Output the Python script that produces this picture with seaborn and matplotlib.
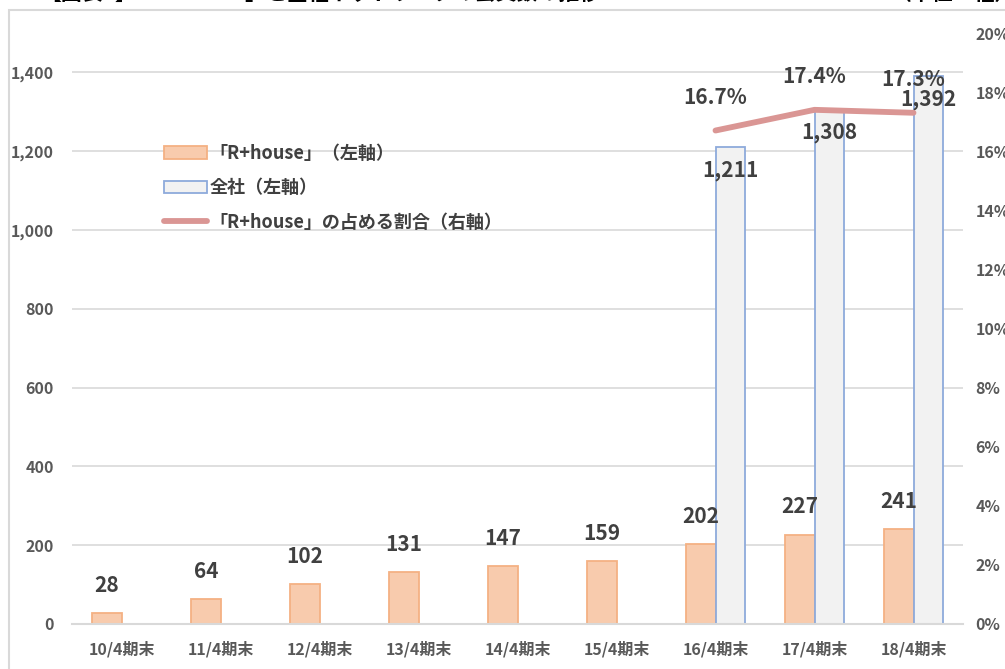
import matplotlib
matplotlib.use("Agg")
import matplotlib.pyplot as plt
import matplotlib.patches as mpatches
import matplotlib.lines as mlines
from matplotlib.ticker import FuncFormatter, MultipleLocator
import numpy as np
import pandas as pd
import seaborn as sns

# データ
periods = ["10/4期末", "11/4期末", "12/4期末", "13/4期末", "14/4期末",
           "15/4期末", "16/4期末", "17/4期末", "18/4期末"]
rhouse = [28, 64, 102, 131, 147, 159, 202, 227, 241]
zensha = [np.nan, np.nan, np.nan, np.nan, np.nan, np.nan, 1211, 1308, 1392]
share = [np.nan, np.nan, np.nan, np.nan, np.nan, np.nan, 0.167, 0.174, 0.173]

series_names = ["「R+house」（左軸）", "全社（左軸）"]
line_name = "「R+house」の占める割合（右軸）"

face_cols = ["#F8CBAD", "#F2F2F2"]
edge_cols = ["#F4B183", "#8EAADB"]
line_col = "#DA9694"
txt_col = "#404040"
tick_col = "#595959"
grid_col = "#D9D9D9"

sns.set_style("white")
plt.rcParams["font.family"] = ["Noto Sans CJK JP", "DejaVu Sans"]

df = pd.DataFrame({
    "period": periods * 2,
    "series": [series_names[0]] * len(periods) + [series_names[1]] * len(periods),
    "value": rhouse + zensha,
})

fig = plt.figure(figsize=(10.05, 6.69), dpi=100)
ax = fig.add_axes([72 / 1005, 1 - 624 / 669, (963 - 72) / 1005, (624 - 33) / 669])

sns.barplot(data=df.dropna(), x="period", y="value", hue="series",
            order=periods, hue_order=series_names, palette=face_cols,
            saturation=1, width=0.59, gap=0, ax=ax, legend=False, linewidth=1.2)

for cont, ec in zip(ax.containers, edge_cols):
    for p in cont:
        p.set_edgecolor(ec)
        p.set_linewidth(1.3)

ax.set_xlim(-0.5, len(periods) - 0.5)
ax.set_ylim(0, 1500)
ax.yaxis.set_major_locator(MultipleLocator(200))
ax.yaxis.set_major_formatter(FuncFormatter(lambda v, p: f"{int(v):,}"))
ax.grid(axis="y", color=grid_col, linewidth=1.2)
ax.set_axisbelow(True)
ax.set_xlabel("")
ax.set_ylabel("")
for s in ["top", "left", "right"]:
    ax.spines[s].set_visible(False)
ax.spines["bottom"].set_color(grid_col)
ax.spines["bottom"].set_linewidth(1.5)
ax.tick_params(axis="y", length=0, pad=13, labelsize=11.5, labelcolor=tick_col)
ax.tick_params(axis="x", length=0, pad=12, labelsize=11.5, labelcolor=tick_col)
for lbl in ax.get_xticklabels() + ax.get_yticklabels():
    lbl.set_fontweight("bold")

# データラベル
for cont, vals, dy in zip(ax.containers, [rhouse, zensha], [20, -17]):
    vis = [v for v in vals if not np.isnan(v)]
    for p, v in zip(cont, vis):
        ax.annotate(f"{int(v):,}", (p.get_x() + p.get_width() / 2, p.get_height()),
                    xytext=(0, dy), textcoords="offset points", ha="center", va="center",
                    fontsize=15, fontweight="bold", color=txt_col)

# 右軸
ax2 = ax.twinx()
xs = [i for i, v in enumerate(share) if not np.isnan(v)]
ys = [v for v in share if not np.isnan(v)]
sns.lineplot(x=xs, y=ys, ax=ax2, color=line_col, linewidth=4.2)
ax2.set_ylim(0, 0.20)
ax2.yaxis.set_major_locator(MultipleLocator(0.02))
ax2.yaxis.set_major_formatter(FuncFormatter(lambda v, p: f"{v * 100:.0f}%"))
ax2.tick_params(axis="y", length=0, pad=9, labelsize=11.5, labelcolor=tick_col)
for lbl in ax2.get_yticklabels():
    lbl.set_fontweight("bold")
for s in ax2.spines.values():
    s.set_visible(False)
for x, y in zip(xs, ys):
    ax2.annotate(f"{y * 100:.1f}%", (x, y), xytext=(0, 24), textcoords="offset points",
                 ha="center", va="center", fontsize=15, fontweight="bold", color=txt_col)

# 凡例
handles = [
    mpatches.Patch(facecolor=face_cols[0], edgecolor=edge_cols[0], linewidth=1.3),
    mpatches.Patch(facecolor=face_cols[1], edgecolor=edge_cols[1], linewidth=1.3),
    mlines.Line2D([], [], color=line_col, linewidth=4.2),
]
leg = fig.legend(handles, series_names + [line_name], loc="upper left",
                 bbox_to_anchor=(155 / 1005, 1 - 135 / 669), frameon=False,
                 borderpad=0, handlelength=2.4, handletextpad=0.1,
                 labelspacing=0.85, prop={"size": 13, "weight": "bold"})
for t in leg.get_texts():
    t.set_color(txt_col)

# 枠とタイトル（上端で切れている）
fig.patches.append(mpatches.Rectangle((9 / 1005, -0.1), 1.2, 1.1 - 10 / 669,
                                      transform=fig.transFigure, fill=False,
                                      edgecolor=grid_col, linewidth=1.5))
fig.text(40 / 1005, 1 - 4 / 669, "【図表3】「R+house」と全社ネットワークの会員数の推移",
         ha="left", va="bottom", fontsize=15, fontweight="bold", color="black")
fig.text(890 / 1005, 1 - 4 / 669, "（単位：社）", ha="left", va="bottom",
         fontsize=15, fontweight="bold", color="black")

fig.savefig("out.png", dpi=100)
